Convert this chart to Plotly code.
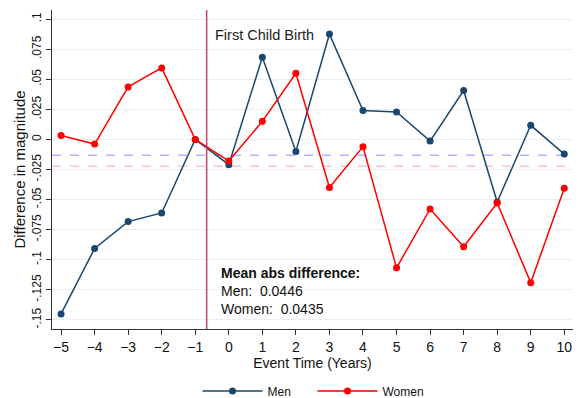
import plotly.graph_objects as go

years = list(range(-5, 11))
men = [-0.145, -0.0906, -0.0683, -0.0611, 0.0, -0.021, 0.0683, -0.010, 0.0875,
       0.024, 0.0228, -0.0014, 0.0406, -0.052, 0.0117, -0.0122]
women = [0.0033, -0.0039, 0.0436, 0.0594, 0.0, -0.018, 0.015, 0.055, -0.040,
         -0.006, -0.1067, -0.0578, -0.0892, -0.0528, -0.119, -0.0406]
mean_men_line = -0.0131
mean_women_line = -0.0222
event_x = -0.66
ytick_vals = [0.1, 0.075, 0.05, 0.025, 0, -0.025, -0.05, -0.075, -0.1, -0.125, -0.15]
ytick_text = [".1", ".075", ".05", ".025", "0", "-.025", "-.05", "-.075", "-.1", "-.125", "-.15"]
note_text = "<b>Mean abs difference:</b><br>Men:  0.0446<br>Women:  0.0435"

FONT = "Liberation Sans, Arial, Helvetica, sans-serif"
MEN_C = "#1a476f"
WOMEN_C = "#ff0000"

fig = go.Figure()
fig.add_hline(y=mean_men_line, line=dict(color="#b3b3ff", width=1.5, dash="dash"), layer="below")
fig.add_hline(y=mean_women_line, line=dict(color="#ffc0d9", width=1.5, dash="dash"), layer="below")
fig.add_shape(type="line", xref="x", yref="paper", x0=event_x, x1=event_x, y0=0, y1=1,
              line=dict(color="#d0406a", width=1.5))

fig.add_trace(go.Scatter(x=years, y=men, mode="lines+markers", name="Men",
                         line=dict(color=MEN_C, width=1.5),
                         marker=dict(color=MEN_C, size=7)))
fig.add_trace(go.Scatter(x=years, y=women, mode="lines+markers", name="Women",
                         line=dict(color=WOMEN_C, width=1.5),
                         marker=dict(color=WOMEN_C, size=7)))

fig.add_annotation(x=event_x, y=0.0865, xref="x", yref="y", text="First Child Birth",
                   showarrow=False, xanchor="left", xshift=6, font=dict(size=14.5, color="#222"))
fig.add_annotation(x=-0.3, y=-0.1262, xref="x", yref="y", text=note_text,
                   showarrow=False, xanchor="left", yanchor="middle", align="left",
                   font=dict(size=14, color="#111"))

fig.update_layout(
    width=580, height=398,
    margin=dict(l=52, r=7, t=10, b=69, autoexpand=False),
    paper_bgcolor="white", plot_bgcolor="white",
    font=dict(family=FONT, size=13, color="#111"),
    showlegend=True,
    legend=dict(orientation="h", x=0.5, xanchor="center", y=-0.194, yanchor="middle",
                font=dict(size=12), itemwidth=60, entrywidth=40),
)
fig.update_xaxes(range=[-5.27, 10.26], tickmode="array", tickvals=years,
                 ticks="outside", ticklen=5, tickcolor="#333", showgrid=False,
                 showline=True, linecolor="#333", linewidth=1, zeroline=False,
                 title=dict(text="Event Time (Years)", font=dict(size=14), standoff=4),
                 tickfont=dict(size=14))
fig.update_yaxes(range=[-0.1575, 0.1075], tickmode="array", tickvals=ytick_vals,
                 ticktext=ytick_text, tickangle=-90,
                 ticks="outside", ticklen=5, tickcolor="#333",
                 showgrid=True, gridcolor="#eaf0f0", gridwidth=1,
                 showline=True, linecolor="#333", linewidth=1, zeroline=False,
                 title=dict(text="Difference in magnitude", font=dict(size=15), standoff=0),
                 tickfont=dict(size=12))

fig.write_html("out.html")
